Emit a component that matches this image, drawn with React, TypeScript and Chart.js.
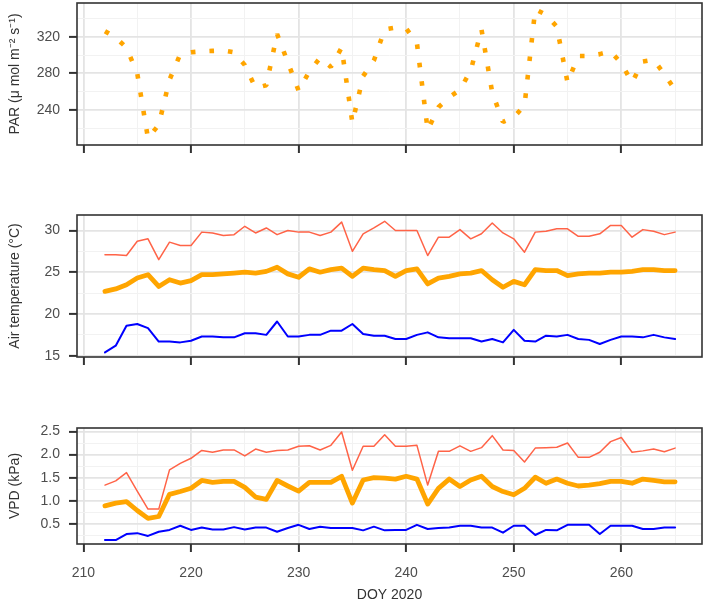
import React, { useEffect, useRef } from 'react';
import { Chart, registerables } from 'chart.js';

Chart.register(...registerables);

const DAYS = [212, 213, 214, 215, 216, 217, 218, 219, 220, 221, 222, 223, 224, 225, 226, 227, 228, 229, 230, 231, 232, 233, 234, 235, 236, 237, 238, 239, 240, 241, 242, 243, 244, 245, 246, 247, 248, 249, 250, 251, 252, 253, 254, 255, 256, 257, 258, 259, 260, 261, 262, 263, 264, 265];

const PAR = [326, 319, 308, 280, 209, 224, 273, 301, 303, 304, 304.5, 305, 303, 289, 264, 267, 323, 292, 261, 282, 297, 287, 308, 226, 277, 294, 328, 330, 329, 313, 218, 243, 254, 262, 283, 328, 259, 227, 232, 245, 350, 344, 331, 270, 299, 299, 301, 304, 291, 270, 293, 295, 279, 262];

const TEMP_MAX = [27.1, 27.1, 27.0, 28.7, 29.0, 26.5, 28.6, 28.2, 28.2, 29.8, 29.7, 29.4, 29.5, 30.5, 29.7, 30.3, 29.5, 30.0, 29.8, 29.8, 29.4, 29.8, 31.0, 27.5, 29.6, 30.3, 31.1, 30.0, 30.0, 30.0, 27.0, 29.2, 29.2, 30.1, 29.0, 29.6, 30.9, 29.7, 29.0, 27.4, 29.8, 29.9, 30.2, 30.2, 29.3, 29.3, 29.6, 30.6, 30.6, 29.2, 30.1, 29.9, 29.5, 29.8];
const TEMP_MEAN = [22.7, 23.0, 23.5, 24.3, 24.7, 23.3, 24.1, 23.7, 24.0, 24.7, 24.7, 24.8, 24.9, 25.0, 24.9, 25.1, 25.6, 24.8, 24.4, 25.4, 25.0, 25.3, 25.5, 24.5, 25.5, 25.3, 25.2, 24.5, 25.2, 25.4, 23.6, 24.3, 24.5, 24.8, 24.9, 25.2, 24.1, 23.2, 23.9, 23.5, 25.3, 25.2, 25.2, 24.6, 24.8, 24.9, 24.9, 25.0, 25.0, 25.1, 25.3, 25.3, 25.2, 25.2];
const TEMP_MIN = [15.4, 16.2, 18.6, 18.8, 18.3, 16.7, 16.7, 16.6, 16.8, 17.3, 17.3, 17.2, 17.2, 17.7, 17.7, 17.5, 19.1, 17.3, 17.3, 17.5, 17.5, 18.0, 18.0, 18.8, 17.6, 17.4, 17.4, 17.0, 17.0, 17.5, 17.8, 17.2, 17.1, 17.1, 17.1, 16.7, 17.0, 16.6, 18.1, 16.8, 16.7, 17.4, 17.3, 17.5, 17.0, 16.9, 16.4, 16.9, 17.3, 17.3, 17.2, 17.5, 17.2, 17.0];

const VPD_MAX = [1.34, 1.43, 1.61, 1.21, 0.82, 0.82, 1.67, 1.81, 1.92, 2.09, 2.05, 2.10, 2.10, 1.97, 2.12, 2.05, 2.09, 2.10, 2.18, 2.19, 2.10, 2.20, 2.49, 1.66, 2.18, 2.18, 2.43, 2.18, 2.18, 2.20, 1.34, 2.07, 2.07, 2.19, 2.07, 2.15, 2.41, 2.10, 2.09, 1.84, 2.14, 2.15, 2.16, 2.25, 1.94, 1.94, 2.05, 2.28, 2.37, 2.05, 2.08, 2.12, 2.06, 2.14];
const VPD_MEAN = [0.89, 0.95, 0.98, 0.79, 0.62, 0.66, 1.14, 1.20, 1.27, 1.44, 1.40, 1.42, 1.42, 1.29, 1.08, 1.03, 1.44, 1.32, 1.21, 1.40, 1.40, 1.40, 1.53, 0.95, 1.45, 1.50, 1.49, 1.47, 1.53, 1.47, 0.93, 1.27, 1.47, 1.31, 1.45, 1.53, 1.31, 1.20, 1.13, 1.27, 1.51, 1.38, 1.47, 1.38, 1.32, 1.34, 1.37, 1.42, 1.42, 1.38, 1.47, 1.44, 1.41, 1.41];
const VPD_MIN = [0.15, 0.15, 0.28, 0.30, 0.24, 0.33, 0.37, 0.46, 0.37, 0.42, 0.38, 0.38, 0.43, 0.38, 0.42, 0.42, 0.33, 0.41, 0.48, 0.39, 0.44, 0.41, 0.41, 0.41, 0.36, 0.44, 0.36, 0.37, 0.37, 0.48, 0.39, 0.41, 0.42, 0.46, 0.46, 0.42, 0.42, 0.31, 0.46, 0.46, 0.26, 0.37, 0.36, 0.48, 0.48, 0.48, 0.28, 0.46, 0.46, 0.46, 0.39, 0.39, 0.42, 0.42];

const X_MAJOR = [210, 220, 230, 240, 250, 260];
const X_MINOR = [215, 225, 235, 245, 255, 265];
const PAR_MAJOR = [240, 280, 320];
const PAR_MINOR = [220, 260, 300, 340];
const TEMP_MAJOR = [15, 20, 25, 30];
const TEMP_MINOR = [17.5, 22.5, 27.5];
const VPD_MAJOR = [0.5, 1.0, 1.5, 2.0, 2.5];
const VPD_MINOR = [0.25, 0.75, 1.25, 1.75, 2.25];

const FONT = "'Liberation Sans', Arial, Helvetica, sans-serif";
const TICK_COLOR = '#4d4d4d';
const TITLE_COLOR = '#333333';
const MAJOR_GRID = '#e4e4e4';
const MINOR_GRID = '#f2f2f2';
const PAD_TOP = 20;

const toPoints = (vals: number[]) => DAYS.map((d, i) => ({ x: d, y: vals[i] }));

const framePlugin = {
  id: 'frame',
  afterDraw(chart: any) {
    const { ctx, chartArea } = chart;
    const { left, top, right, bottom } = chartArea;
    ctx.save();
    ctx.strokeStyle = '#333333';
    ctx.lineWidth = 1.6;
    ctx.strokeRect(left, top, right - left, bottom - top);
    ctx.restore();
  },
};

const isIn = (arr: number[], v: number) => arr.some((a) => Math.abs(a - v) < 1e-6);

type PanelProps = {
  top: number;
  height: number;
  xAxisH: number;
  showXLabels: boolean;
  yMin: number;
  yMax: number;
  yMajor: number[];
  yMinor: number[];
  yDecimals: number;
  yTitle: string;
  datasets: any[];
};

function Panel(p: PanelProps) {
  const ref = useRef<HTMLCanvasElement | null>(null);
  useEffect(() => {
    if (!ref.current) return;
    const xTicks = [...X_MAJOR, ...X_MINOR].sort((a, b) => a - b);
    const yTicks = [...p.yMajor, ...p.yMinor].sort((a, b) => a - b);
    const chart = new Chart(ref.current, {
      type: 'line',
      data: { datasets: p.datasets },
      options: {
        responsive: false,
        animation: false,
        devicePixelRatio: 1,
        layout: { padding: { top: PAD_TOP, left: 0, right: 6, bottom: 0 } },
        plugins: { legend: { display: false }, tooltip: { enabled: false } },
        elements: { point: { radius: 0 } },
        scales: {
          x: {
            type: 'linear',
            min: 209.4,
            max: 267.5,
            afterBuildTicks: (s: any) => {
              s.ticks = xTicks.map((v) => ({ value: v }));
            },
            afterFit: (s: any) => {
              s.height = p.xAxisH;
            },
            border: { display: false },
            grid: {
              color: (c: any) => (c.tick && isIn(X_MAJOR, c.tick.value) ? MAJOR_GRID : MINOR_GRID),
              lineWidth: (c: any) => (c.tick && isIn(X_MAJOR, c.tick.value) ? 1.8 : 1),
              tickColor: (c: any) => (c.tick && isIn(X_MAJOR, c.tick.value) ? '#333333' : 'rgba(0,0,0,0)'),
              tickLength: 8,
              tickWidth: 2,
            },
            ticks: {
              autoSkip: false,
              maxRotation: 0,
              minRotation: 0,
              padding: 13,
              color: TICK_COLOR,
              font: { family: FONT, size: 14 },
              callback: (v: any) => (p.showXLabels && isIn(X_MAJOR, Number(v)) ? String(v) : ''),
            },
            title: {
              display: p.showXLabels,
              text: 'DOY 2020',
              color: TITLE_COLOR,
              font: { family: FONT, size: 14 },
              padding: { top: 0, bottom: 0 },
            },
          },
          y: {
            type: 'linear',
            min: p.yMin,
            max: p.yMax,
            afterBuildTicks: (s: any) => {
              s.ticks = yTicks.map((v) => ({ value: v }));
            },
            afterFit: (s: any) => {
              s.width = 77;
            },
            border: { display: false },
            grid: {
              color: (c: any) => (c.tick && isIn(p.yMajor, c.tick.value) ? MAJOR_GRID : MINOR_GRID),
              lineWidth: (c: any) => (c.tick && isIn(p.yMajor, c.tick.value) ? 1.8 : 1),
              tickColor: (c: any) => (c.tick && isIn(p.yMajor, c.tick.value) ? '#333333' : 'rgba(0,0,0,0)'),
              tickLength: 8,
              tickWidth: 2,
            },
            ticks: {
              autoSkip: false,
              padding: 9,
              color: TICK_COLOR,
              font: { family: FONT, size: 14 },
              callback: (v: any) => (isIn(p.yMajor, Number(v)) ? Number(v).toFixed(p.yDecimals) : ''),
            },
            title: {
              display: true,
              text: p.yTitle,
              color: TITLE_COLOR,
              font: { family: FONT, size: 14 },
              padding: { top: 7, bottom: 0 },
            },
          },
        },
      },
      plugins: [framePlugin],
    } as any);
    return () => chart.destroy();
  }, []);
  return (
    <canvas
      ref={ref}
      width={708}
      height={p.height}
      style={{ position: 'absolute', left: 0, top: p.top, width: 708, height: p.height, display: 'block' }}
    />
  );
}

const lineSet = (vals: number[], color: string, width: number, extra: any = {}) => ({
  data: toPoints(vals),
  borderColor: color,
  backgroundColor: color,
  borderWidth: width,
  pointRadius: 0,
  tension: 0,
  fill: false,
  borderJoinStyle: 'round',
  borderCapStyle: 'round',
  ...extra,
});

export default function App() {
  const parSets = [
    lineSet(PAR, '#FFA500', 4.6, { borderDash: [4.6, 14], borderCapStyle: 'butt', borderJoinStyle: 'bevel' }),
  ];
  const tempSets = [
    lineSet(TEMP_MAX, '#FF6347', 1.5),
    lineSet(TEMP_MEAN, '#FFA500', 4.8),
    lineSet(TEMP_MIN, '#0000FF', 2),
  ];
  const vpdSets = [
    lineSet(VPD_MAX, '#FF6347', 1.5),
    lineSet(VPD_MEAN, '#FFA500', 4.8),
    lineSet(VPD_MIN, '#0000FF', 2),
  ];
  // chart areas: panel 1 y 3..145, panel 2 y 215..357, panel 3 y 428..544
  return (
    <div style={{ position: 'absolute', left: 0, top: 0, width: 708, height: 602, background: '#ffffff', overflow: 'hidden' }}>
      <Panel
        top={3 - PAD_TOP}
        height={PAD_TOP + 142 + 20}
        xAxisH={20}
        showXLabels={false}
        yMin={201.8}
        yMax={356.8}
        yMajor={PAR_MAJOR}
        yMinor={PAR_MINOR}
        yDecimals={0}
        yTitle={'PAR (\u03BC mol m\u207B\u00B2 s\u207B\u00B9)'}
        datasets={parSets}
      />
      <Panel
        top={215 - PAD_TOP}
        height={PAD_TOP + 142 + 20}
        xAxisH={20}
        showXLabels={false}
        yMin={14.85}
        yMax={31.85}
        yMajor={TEMP_MAJOR}
        yMinor={TEMP_MINOR}
        yDecimals={0}
        yTitle={'Air temperature (\u00B0C)'}
        datasets={tempSets}
      />
      <Panel
        top={428 - PAD_TOP}
        height={PAD_TOP + 116 + 60}
        xAxisH={60}
        showXLabels={true}
        yMin={0.065}
        yMax={2.575}
        yMajor={VPD_MAJOR}
        yMinor={VPD_MINOR}
        yDecimals={1}
        yTitle={'VPD (kPa)'}
        datasets={vpdSets}
      />
    </div>
  );
}
